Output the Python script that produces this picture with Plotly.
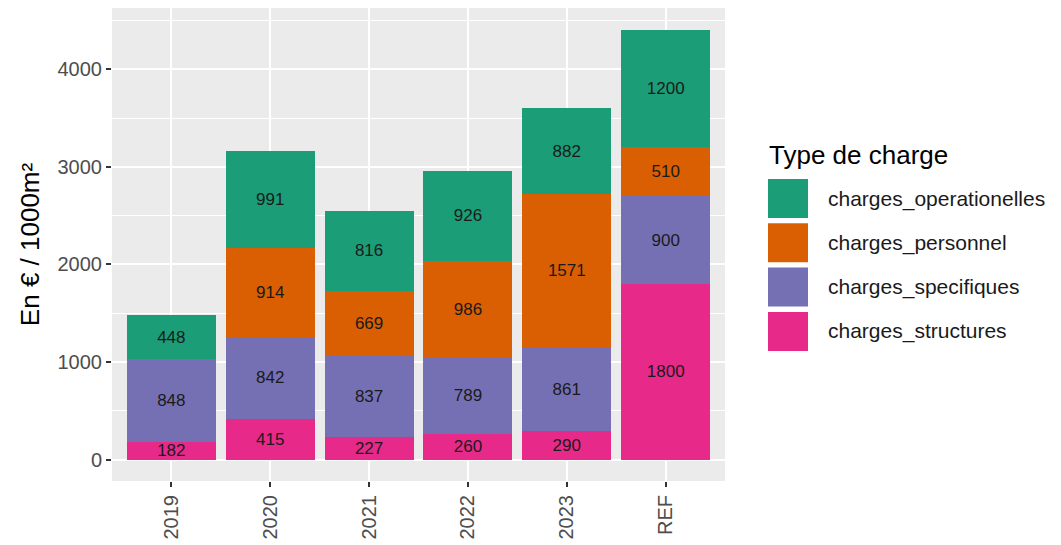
import plotly.graph_objects as go

categories = ["2019", "2020", "2021", "2022", "2023", "REF"]
charges_structures = [182, 415, 227, 260, 290, 1800]
charges_specifiques = [848, 842, 837, 789, 861, 900]
charges_personnel = [None, 914, 669, 986, 1571, 510]
charges_operationelles = [448, 991, 816, 926, 882, 1200]

series = [
    ("charges_structures", charges_structures, "#E7298A"),
    ("charges_specifiques", charges_specifiques, "#7570B3"),
    ("charges_personnel", charges_personnel, "#D95F02"),
    ("charges_operationelles", charges_operationelles, "#1B9E77"),
]

FONT = "Liberation Sans, Arial, sans-serif"
OFF = 8  # page body margin
W, H = 1061 - OFF, 545 - OFF
# target panel in window pixels: x 112..725, y 8..481
L, R, T, B = 112 - OFF, 1061 - 725, 8 - OFF, 545 - OFF - (481 - OFF)
pw, ph = W - L - R, H - T - B

fig = go.Figure()
for name, vals, col in series:
    fig.add_trace(go.Bar(
        x=categories, y=vals, name=name,
        marker=dict(color=col, line=dict(width=0)),
        text=[str(v) if v else "" for v in vals],
        textposition="inside", insidetextanchor="middle",
        constraintext="none", textangle=0,
        textfont=dict(family=FONT, size=17, color="#1a1a1a"),
        showlegend=False,
    ))

totals = [sum(v or 0 for v in vals) for vals in zip(*[s[1] for s in series])]
ymax = max(totals)
pad = ymax * 0.05

fig.update_layout(
    barmode="stack", bargap=0.1,
    width=W, height=H,
    margin=dict(l=L, r=R, t=T, b=B, autoexpand=False),
    paper_bgcolor="white", plot_bgcolor="#EBEBEB",
    font=dict(family=FONT, color="#4D4D4D"),
)
fig.update_xaxes(
    type="category", range=[-0.6, len(categories) - 0.4],
    showgrid=True, gridcolor="white", gridwidth=1.5,
    ticks="outside", ticklen=5, tickcolor="#333333", tickwidth=1.5,
    tickangle=-90, tickfont=dict(size=20, color="#4D4D4D", family=FONT),
    zeroline=False, showline=False,
)
fig.update_yaxes(
    range=[-pad, ymax + pad], dtick=1000, tick0=0,
    showgrid=True, gridcolor="white", gridwidth=1.5,
    minor=dict(dtick=500, tick0=0, showgrid=True, gridcolor="white", gridwidth=0.8, ticklen=0),
    ticks="outside", ticklen=5, tickcolor="#333333", tickwidth=1.5,
    tickfont=dict(size=20, color="#4D4D4D", family=FONT),
    zeroline=False, showline=False,
    title=dict(text="En € / 1000m²", font=dict(size=26, color="black", family=FONT), standoff=10),
)

# ggplot-style legend (positions given in window pixels)
def px_x(x):
    return (x - OFF - L) / pw

def px_y(y):
    return (H - B - (y - OFF)) / ph

fig.add_annotation(
    x=px_x(767), y=px_y(155), xref="paper", yref="paper",
    text="Type de charge", showarrow=False, xanchor="left", yanchor="middle",
    font=dict(size=26, color="black", family=FONT),
)
legend_items = list(reversed(series))
for i, (name, vals, col) in enumerate(legend_items):
    top = 179 + i * 44.3
    bot = top + 39
    fig.add_shape(type="rect", xref="paper", yref="paper",
                  x0=px_x(768), x1=px_x(808), y0=px_y(bot), y1=px_y(top),
                  fillcolor=col, line=dict(width=0))
    fig.add_annotation(
        x=px_x(826), y=px_y((top + bot) / 2), xref="paper", yref="paper",
        text=name, showarrow=False, xanchor="left", yanchor="middle",
        font=dict(size=21, color="#1a1a1a", family=FONT),
    )

fig.write_html("out.html")
